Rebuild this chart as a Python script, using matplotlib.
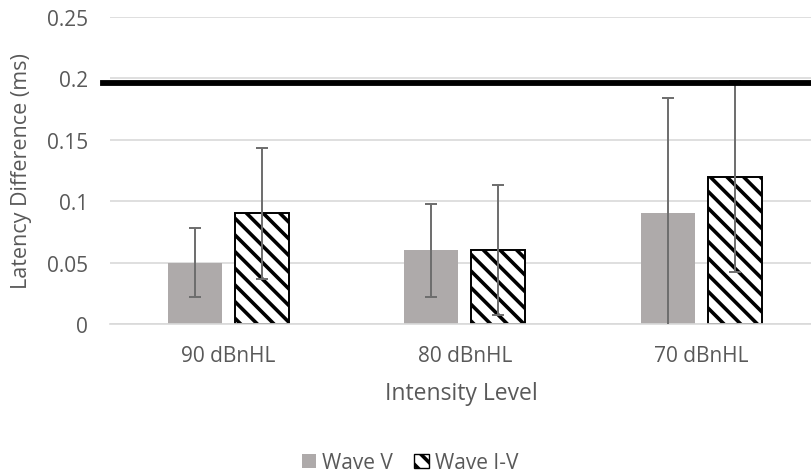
import numpy as np
import matplotlib.pyplot as plt
from matplotlib.patches import Patch

plt.rcParams['font.family'] = ['Open Sans', 'DejaVu Sans']
plt.rcParams['hatch.linewidth'] = 2.6
plt.rcParams['hatch.color'] = 'black'

# Mean latency differences and standard deviations per stimulus level
levels = ['90 dBnHL', '80 dBnHL', '70 dBnHL']
wave_v = [0.05, 0.06, 0.09]
wave_v_sd = [0.028, 0.038, 0.094]
wave_iv = [0.09, 0.06, 0.12]
wave_iv_sd = [0.053, 0.053, 0.078]
criterion = 0.196

yticks = [0, 0.05, 0.1, 0.15, 0.2, 0.25]
ytick_labels = ['0', '0.05', '0.1', '0.15', '0.2', '0.25']

text_col = '#595959'
grid_col = '#d9d9d9'
grey_bar = '#aeaaaa'

fig = plt.figure(figsize=(8.12, 4.77), dpi=100)
ax = fig.add_axes([0.1355, 0.3187, 0.8645, 0.6436])

x = np.arange(len(levels))
w = 0.228
off = 0.142

ax.bar(x - off, wave_v, w, color=grey_bar, zorder=2)
ax.bar(x + off, wave_iv, w, color='white', edgecolor='black',
       linewidth=1.4, hatch='\\\\', zorder=2)

err_kw = dict(fmt='none', ecolor='#6d6d6d', elinewidth=1.4,
              capsize=4.5, capthick=1.4, zorder=3)
ax.errorbar(x - off, wave_v, yerr=wave_v_sd, **err_kw)
ax.errorbar(x + off, wave_iv, yerr=wave_iv_sd, **err_kw)

# reference line
ax.axhline(criterion, xmin=-0.01, xmax=1, color='black', linewidth=4.2,
           clip_on=False, zorder=4)

ax.set_xlim(-0.5, 2.468)
ax.set_ylim(0, 0.25)
ax.set_yticks(yticks)
ax.set_yticklabels(ytick_labels)
ax.set_xticks(x)
ax.set_xticklabels(levels)

ax.yaxis.grid(True, color=grid_col, linewidth=1.2, zorder=0)
ax.set_axisbelow(True)
for s in ['top', 'right', 'left']:
    ax.spines[s].set_visible(False)
ax.spines['bottom'].set_color(grid_col)
ax.spines['bottom'].set_linewidth(1.2)
ax.tick_params(axis='both', length=0, colors=text_col, labelsize=15)
ax.tick_params(axis='y', pad=16)
ax.tick_params(axis='x', pad=15)

ax.set_ylabel('Latency Difference (ms)', fontsize=15.5, color=text_col)
ax.yaxis.set_label_coords(-0.111, 0.5)
ax.set_xlabel('Intensity Level', fontsize=16.5, color=text_col, labelpad=11)

handles = [Patch(facecolor=grey_bar, label='Wave V'),
           Patch(facecolor='white', edgecolor='black', hatch='\\\\', label='Wave I-V')]
leg = fig.legend(handles=handles, loc='center', bbox_to_anchor=(0.505, 0.028),
                 ncol=2, frameon=False, fontsize=15, handlelength=0.7,
                 handleheight=0.7, handletextpad=0.3, columnspacing=1.0)
for t in leg.get_texts():
    t.set_color(text_col)

fig.savefig('out.png', dpi=100)
